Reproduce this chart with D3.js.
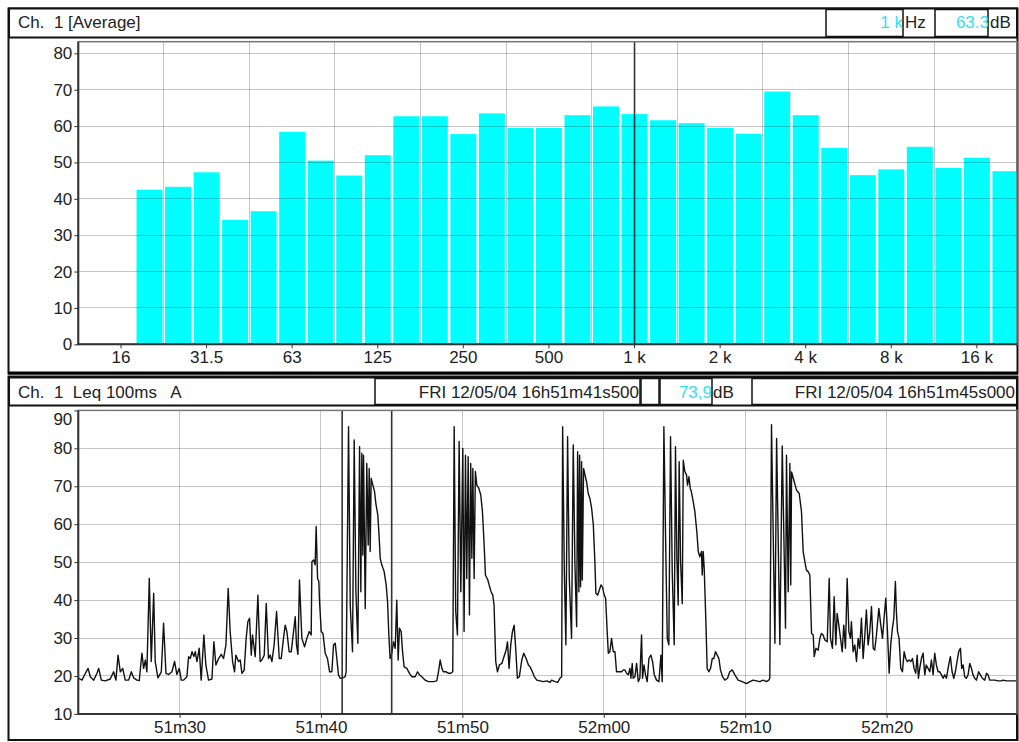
<!DOCTYPE html>
<meta charset="utf-8">
<style>
body { margin: 0; background: #fff; }
text { font-family: "Liberation Sans", Arial, sans-serif; fill: #222; }
.grid line { stroke: #000; stroke-opacity: 0.22; shape-rendering: crispEdges; }
.axis path { display: none; }
.axis line { stroke: #333; }
.axis text { font-size: 17px; fill: #222; font-family: "Liberation Sans", Arial, sans-serif; }
.panel { fill: none; stroke: #111; stroke-width: 2; }
.box { fill: #fff; stroke: #111; stroke-width: 1.5; }
.plotframe { fill: none; stroke: #777; stroke-width: 1.5; }
.cyan { fill: #33dff0; }
.leq { fill: none; stroke: #111; stroke-width: 1.4; stroke-linejoin: round; }
.cursor { stroke: #333; stroke-width: 1.6; }
</style>
<body>
<div id="plotHere"></div>
<script src="https://cdn.jsdelivr.net/npm/d3@7/dist/d3.min.js"></script>
<script>
//------------------------1. DATA------------------------//

// third octave bands, 12.5 Hz .. 20 kHz
var bands = ["12.5","16","20","25","31.5","40","50","63","80","100","125","160","200","250","315",
             "400","500","630","800","1 k","1.25 k","1.6 k","2 k","2.5 k","3.15 k","4 k","5 k","6.3 k",
             "8 k","10 k","12.5 k","16 k","20 k"];
var bandDb = [null,null,42.5,43.3,47.3,34.2,36.6,58.4,50.5,46.4,52.0,62.7,62.7,57.8,63.5,
              59.5,59.5,63.0,65.4,63.3,61.6,60.8,59.5,57.9,69.5,63.0,54.0,46.5,
              48.1,54.3,48.5,51.3,47.6];
var bandLabels = ["16","31.5","63","125","250","500","1 k","2 k","4 k","8 k","16 k"];
var bandGrid = ["25","50","100","200","400","800","1.6 k","3.15 k","6.3 k","12.5 k"];
var dbTicks = [0,10,20,30,40,50,60,70,80];
var cursorBand = "1 k";

// Leq 100ms A, seconds after 16h51m00
var leqT = [22.63,22.87,23.10,23.34,23.53,23.69,23.93,24.16,24.28,24.47,24.75,25.10,25.34,25.50,25.65,25.81,25.98,26.16,26.40,26.59,
  26.75,26.99,27.15,27.34,27.46,27.58,27.69,27.86,28.00,28.17,28.28,28.47,28.71,28.87,29.04,29.23,29.46,29.65,29.81,29.98,
  30.12,30.29,30.52,30.64,30.76,30.88,31.01,31.11,31.23,31.39,31.53,31.72,31.86,32.05,32.29,32.43,32.57,32.76,32.95,33.11,
  33.28,33.44,33.58,33.75,33.89,33.98,34.17,34.29,34.41,34.57,34.71,34.83,34.95,35.07,35.16,35.35,35.54,35.70,35.82,35.99,
  36.13,36.29,36.41,36.53,36.69,36.86,37.05,37.19,37.35,37.47,37.59,37.75,37.90,38.06,38.18,38.27,38.37,38.48,38.65,38.84,
  39.00,39.17,39.31,39.36,39.48,39.59,39.66,39.76,39.85,39.90,40.02,40.14,40.30,40.46,40.61,40.77,40.89,41.01,41.12,41.24,
  41.36,41.52,41.71,41.78,41.95,42.07,42.23,42.35,42.47,42.61,42.73,42.82,42.89,42.96,43.01,43.13,43.24,43.34,43.41,43.48,
  43.55,43.67,43.79,43.88,44.02,44.12,44.19,44.30,44.47,44.61,44.71,44.80,44.89,45.01,45.13,45.25,45.36,45.46,45.55,45.67,
  45.77,45.88,46.07,46.26,46.42,46.66,46.83,46.97,47.13,47.37,47.60,47.96,48.19,48.31,48.43,48.55,48.66,48.85,49.02,49.18,
  49.32,49.42,49.53,49.65,49.77,49.89,50.03,50.12,50.22,50.31,50.41,50.50,50.59,50.67,50.74,50.83,50.92,51.02,51.16,51.30,
  51.42,51.54,51.63,51.80,51.89,52.03,52.15,52.24,52.36,52.48,52.62,52.79,52.90,53.09,53.19,53.30,53.42,53.54,53.66,53.77,
  53.89,54.03,54.20,54.34,54.51,54.67,54.79,54.95,55.09,55.26,55.49,55.73,55.97,56.20,56.31,56.55,56.74,56.90,57.02,57.09,
  57.21,57.32,57.44,57.56,57.72,57.84,57.96,58.08,58.15,58.24,58.29,58.36,58.43,58.48,58.57,58.67,58.78,58.90,59.02,59.14,
  59.26,59.37,59.44,59.56,59.68,59.80,59.92,60.03,60.13,60.24,60.32,60.43,60.55,60.67,60.79,60.90,61.07,61.26,61.38,61.49,
  61.61,61.73,61.85,61.92,62.01,62.08,62.20,62.32,62.44,62.55,62.67,62.74,62.84,62.95,63.07,63.19,63.33,63.45,63.57,63.73,
  63.90,64.04,64.13,64.25,64.37,64.49,64.60,64.72,64.84,64.98,65.07,65.17,65.26,65.33,65.43,65.55,65.62,65.73,65.85,65.92,
  66.02,66.11,66.19,66.32,66.44,66.58,66.68,66.79,66.91,66.96,67.03,67.10,67.22,67.31,67.43,67.55,67.67,67.78,67.90,68.02,
  68.14,68.25,68.40,68.56,68.75,68.91,69.08,69.27,69.50,69.79,70.09,70.33,70.56,70.80,71.03,71.27,71.51,71.67,71.74,71.86,
  72.10,72.22,72.45,72.62,72.85,72.92,73.04,73.16,73.22,73.28,73.44,73.63,73.82,73.98,74.10,74.22,74.33,74.45,74.57,74.69,
  74.81,74.88,75.00,75.16,75.28,75.39,75.51,75.63,75.80,75.94,76.03,76.17,76.29,76.41,76.50,76.62,76.74,76.86,76.97,77.09,
  77.21,77.33,77.44,77.51,77.63,77.75,77.87,77.99,78.10,78.22,78.34,78.46,78.57,78.69,78.81,78.93,79.05,79.16,79.28,79.45,
  79.59,79.71,79.82,79.94,80.06,80.18,80.29,80.41,80.51,80.62,80.69,80.77,80.88,81.00,81.12,81.24,81.35,81.47,81.59,81.71,
  81.83,81.94,82.06,82.16,82.25,82.34,82.46,82.58,82.70,82.80,82.93,83.05,83.17,83.29,83.40,83.52,83.64,83.76,83.88,84.00,
  84.11,84.23,84.39,84.51,84.63,84.75,84.86,84.98,85.10,85.22,85.31,85.41,85.52,85.64,85.76,85.88,86.00,86.11,86.23,86.35,
  86.51,86.63,86.77,86.94,87.06,87.17,87.29,87.41,87.64,87.88,88.12,88.23,88.47,88.70,88.94,89.18];
var leqDb = [18.5,19.4,18.9,20.7,22.0,19.8,18.9,20.7,22.0,18.9,18.7,19.2,21.1,18.9,25.5,21.1,22.0,18.9,18.9,21.1,
  19.5,18.9,18.8,26.0,22.0,24.2,21.1,45.7,23.8,41.8,23.8,19.5,21.1,33.9,20.7,20.4,21.1,23.8,20.4,22.0,
  18.9,18.9,19.8,25.1,24.6,26.4,25.1,26.4,23.8,27.3,18.9,30.8,22.9,18.9,19.2,29.0,22.9,24.6,25.7,24.6,
  28.2,43.1,31.7,23.8,21.1,25.5,23.8,24.2,20.7,21.5,29.9,34.3,35.2,25.5,30.8,25.1,41.3,23.8,24.2,25.5,
  39.1,24.6,25.5,23.8,28.2,37.0,24.6,24.6,29.9,33.4,31.7,26.4,26.4,31.7,35.6,28.2,25.7,45.3,29.9,27.7,
  29.9,31.7,30.8,50.1,50.6,49.3,59.4,45.7,44.9,39.6,31.7,31.2,26.0,24.6,21.1,21.1,28.2,28.6,24.6,20.3,
  19.4,19.4,19.8,21.1,85.7,38.7,26.4,82.2,42.2,28.6,80.4,42.2,78.7,51.9,78.2,37.8,76.0,54.5,74.7,52.8,
  72.1,70.3,68.6,65.5,62.4,56.3,51.0,49.3,47.5,44.0,39.6,30.8,24.6,26.0,29.0,27.3,40.0,24.2,32.6,31.7,
  26.4,22.4,22.0,20.7,19.8,19.8,21.1,20.3,19.8,18.9,18.5,18.5,18.7,21.1,24.2,22.0,21.1,21.1,20.7,20.7,
  21.1,85.7,37.0,30.8,81.8,42.2,80.0,31.7,78.2,45.7,77.8,36.1,76.0,51.0,74.7,45.7,73.9,70.3,69.5,67.7,
  63.3,54.5,46.6,45.3,44.0,42.2,41.3,38.7,23.8,21.1,22.9,23.3,24.6,26.8,29.0,22.0,28.2,31.7,33.4,27.3,
  19.4,19.8,24.2,26.0,24.6,22.9,22.4,21.1,19.8,18.9,18.7,18.5,18.7,18.3,18.9,18.5,18.3,19.4,19.8,85.7,
  47.5,28.2,83.1,45.7,29.9,80.9,49.3,33.0,79.1,42.2,78.2,43.5,76.5,45.3,74.7,73.0,71.2,68.1,66.8,64.2,
  59.8,50.1,41.8,41.3,42.6,44.0,43.3,41.3,40.5,31.7,26.0,26.4,29.9,26.4,26.4,21.1,21.1,21.1,21.6,21.6,
  20.7,20.3,22.0,19.4,23.3,19.4,19.8,23.3,18.5,19.4,30.8,19.4,22.9,20.3,18.5,24.6,25.5,23.8,20.3,18.9,
  18.5,25.5,18.5,85.7,56.3,29.9,28.2,83.1,47.5,28.2,80.4,51.0,38.7,76.5,50.1,39.1,76.9,73.9,73.0,70.3,
  72.5,69.5,68.6,66.0,63.3,58.0,52.8,51.4,52.8,46.6,52.8,48.4,34.3,22.0,21.1,22.0,24.6,24.6,26.4,25.5,
  24.6,21.6,19.8,18.9,19.4,21.1,21.6,20.3,18.9,18.5,18.0,18.5,18.9,18.7,18.5,18.9,18.5,18.9,19.4,86.2,
  28.6,82.6,28.3,80.6,32.6,78.2,42.2,76.0,44.0,73.8,71.6,69.0,68.1,63.3,52.8,50.1,47.9,47.5,46.6,31.2,
  30.8,25.1,27.3,26.8,29.9,31.2,30.8,29.5,29.0,45.7,29.9,27.3,40.9,28.2,36.5,33.4,29.9,26.4,33.4,27.3,
  45.7,31.7,29.9,34.3,26.4,28.2,23.8,29.9,27.3,35.2,24.6,30.8,37.4,28.2,31.7,38.3,27.3,26.8,30.8,37.8,
  33.4,29.9,35.2,40.5,31.7,20.7,28.2,32.6,35.2,44.9,37.0,31.7,29.9,22.0,21.1,26.4,24.6,23.8,24.2,23.8,
  24.6,22.0,20.7,25.5,19.4,22.0,24.6,26.0,20.3,22.9,22.0,21.1,24.2,20.3,26.0,22.9,21.1,21.1,20.3,19.4,
  20.3,19.4,22.9,25.1,21.1,19.4,21.1,23.8,26.4,27.3,22.0,22.9,19.8,19.4,20.3,23.3,22.0,20.3,19.4,18.9,
  21.1,20.3,19.4,18.9,20.7,20.3,18.9,18.9,18.9,18.7,18.7,18.9,18.7,18.7,18.7,18.7];
var timeTicks = [30,40,50,60,70,80];
var timeLabels = ["51m30","51m40","51m50","52m00","52m10","52m20"];
var leqTicks = [10,20,30,40,50,60,70,80,90];
var timeCursors = [41.5, 45.0];

var topTitle = "Ch.  1 [Average]";
var botTitle = "Ch.  1  Leq 100ms   A";
var cursorTime1 = "FRI 12/05/04 16h51m41s500";
var cursorTime2 = "FRI 12/05/04 16h51m45s000";
var cursorLeq = "73,9";

//------------------------2. SVG------------------------//
var W = 1019, H = 742;
var topPlot = {left: 78.3, right: 1017, top: 41.7, bottom: 344.3};
var botPlot = {left: 78.3, right: 1017, top: 410.4, bottom: 713.9};

var svg = d3.select("#plotHere").append("svg")
    .attr("width", W)
    .attr("height", H);

var defs = svg.append("defs");
defs.append("clipPath").attr("id", "clipTop").append("rect")
    .attr("x", topPlot.left).attr("y", topPlot.top)
    .attr("width", topPlot.right - topPlot.left).attr("height", topPlot.bottom - topPlot.top);
defs.append("clipPath").attr("id", "clipBot").append("rect")
    .attr("x", botPlot.left).attr("y", botPlot.top)
    .attr("width", botPlot.right - botPlot.left).attr("height", botPlot.bottom - botPlot.top);

//------------------------3. SPECTRUM (top)------------------------//
var step = 28.53;
var x = d3.scaleBand().domain(bands)
    .range([78.2, 78.2 + bands.length * step])
    .paddingInner(0.09).paddingOuter(0.045);
var y = d3.scaleLinear().domain([0, 83.2]).range([topPlot.bottom, topPlot.top]);

function bandCenter(b) { return x(b) + x.bandwidth() / 2; }
function bandEdge(b) { return bandCenter(b) - x.step() / 2; }

// panel frame + header
svg.append("rect").attr("class", "panel")
    .attr("x", 8.5).attr("y", 8.5).attr("width", 1009).attr("height", 365);
svg.append("rect").attr("class", "box")
    .attr("x", 9).attr("y", 8.5).attr("width", 1008).attr("height", 29).style("stroke-width", 2);
svg.append("text").attr("x", 18).attr("y", 28).style("font-size", "17px")
    .style("white-space", "pre").text(topTitle);

svg.append("rect").attr("class", "box")
    .attr("x", 826).attr("y", 9.5).attr("width", 77).attr("height", 27);
svg.append("text").attr("class", "cyan").attr("x", 903).attr("y", 28)
    .attr("text-anchor", "end").style("font-size", "17px").text(cursorBand);
svg.append("text").attr("x", 905).attr("y", 28).style("font-size", "17px").text("Hz");
svg.append("rect").attr("class", "box")
    .attr("x", 935).attr("y", 9.5).attr("width", 53).attr("height", 27);
svg.append("text").attr("class", "cyan").attr("x", 989).attr("y", 28)
    .attr("text-anchor", "end").style("font-size", "17px")
    .text(d3.format(".1f")(bandDb[bands.indexOf(cursorBand)]));
svg.append("text").attr("x", 990).attr("y", 28).style("font-size", "17px").text("dB");

var gTop = svg.append("g").attr("clip-path", "url(#clipTop)");

var barData = bands.map(function(b, i) { return {band: b, db: bandDb[i]}; })
    .filter(function(d) { return d.db != null; });

gTop.selectAll(".bar").data(barData).enter().append("rect")
    .attr("class", "bar")
    .attr("x", function(d) { return x(d.band); })
    .attr("width", x.bandwidth())
    .attr("y", function(d) { return y(d.db); })
    .attr("height", function(d) { return y(0) - y(d.db); })
    .style("fill", "#00ffff");

// grid over the bars
var gridTop = gTop.append("g").attr("class", "grid");
gridTop.selectAll(".h").data(dbTicks.slice(1)).enter().append("line")
    .attr("x1", topPlot.left).attr("x2", topPlot.right)
    .attr("y1", function(d) { return y(d); }).attr("y2", function(d) { return y(d); });
gridTop.selectAll(".v").data(bandGrid).enter().append("line")
    .attr("x1", bandEdge).attr("x2", bandEdge)
    .attr("y1", topPlot.top).attr("y2", topPlot.bottom);

gTop.append("line").attr("class", "cursor")
    .attr("x1", bandCenter(cursorBand)).attr("x2", bandCenter(cursorBand))
    .attr("y1", topPlot.top).attr("y2", topPlot.bottom);

svg.append("rect").attr("class", "plotframe")
    .attr("x", topPlot.left).attr("y", topPlot.top)
    .attr("width", topPlot.right - topPlot.left).attr("height", topPlot.bottom - topPlot.top);

// axes
svg.append("g").attr("class", "axis")
    .attr("transform", "translate(" + topPlot.left + ",0)")
    .call(d3.axisLeft(y).tickValues(dbTicks).tickSize(4).tickPadding(2));
svg.append("g").attr("class", "axis")
    .attr("transform", "translate(0," + topPlot.bottom + ")")
    .call(d3.axisBottom(x).tickValues(bandLabels).tickSize(4).tickPadding(3));
svg.append("line").attr("x1", topPlot.left).attr("x2", topPlot.left)
    .attr("y1", topPlot.top).attr("y2", topPlot.bottom + 1)
    .style("stroke", "#333").style("stroke-width", 2);
svg.append("line").attr("x1", topPlot.left).attr("x2", topPlot.right)
    .attr("y1", topPlot.bottom).attr("y2", topPlot.bottom)
    .style("stroke", "#333").style("stroke-width", 2);

svg.append("line").attr("x1", 8).attr("x2", 1018).attr("y1", 373).attr("y2", 373)
    .style("stroke", "#000").style("stroke-width", 3);

//------------------------4. LEQ TIME HISTORY (bottom)------------------------//
var t = d3.scaleLinear().domain([22.84, 89.22]).range([botPlot.left, botPlot.right]);
var v = d3.scaleLinear().domain([10, 90]).range([botPlot.bottom, botPlot.top]);

svg.append("rect").attr("class", "panel")
    .attr("x", 8.5).attr("y", 376.5).attr("width", 1009).attr("height", 363.5);
svg.append("rect").attr("class", "box")
    .attr("x", 9).attr("y", 377.5).attr("width", 1008).attr("height", 28).style("stroke-width", 2);
svg.append("text").attr("x", 18).attr("y", 398).style("font-size", "17px")
    .style("white-space", "pre").text(botTitle);

svg.append("rect").attr("class", "box")
    .attr("x", 375).attr("y", 378.5).attr("width", 265).attr("height", 26);
svg.append("text").attr("x", 639).attr("y", 398).attr("text-anchor", "end")
    .style("font-size", "17px").text(cursorTime1);
svg.append("rect").attr("class", "box")
    .attr("x", 641).attr("y", 378.5).attr("width", 18).attr("height", 26);
svg.append("rect").attr("class", "box")
    .attr("x", 660).attr("y", 378.5).attr("width", 52).attr("height", 26);
svg.append("text").attr("class", "cyan").attr("x", 712).attr("y", 398).attr("text-anchor", "end")
    .style("font-size", "17px").text(cursorLeq);
svg.append("text").attr("x", 713).attr("y", 398).style("font-size", "17px").text("dB");
svg.append("rect").attr("class", "box")
    .attr("x", 752).attr("y", 378.5).attr("width", 265).attr("height", 26);
svg.append("text").attr("x", 1015).attr("y", 398).attr("text-anchor", "end")
    .style("font-size", "17px").text(cursorTime2);
svg.append("line").attr("x1", 1017).attr("x2", 1017).attr("y1", 377).attr("y2", 740)
    .style("stroke", "#111").style("stroke-width", 2);

var gBot = svg.append("g").attr("clip-path", "url(#clipBot)");
var gridBot = gBot.append("g").attr("class", "grid");
gridBot.selectAll(".h").data(leqTicks.slice(1)).enter().append("line")
    .attr("x1", botPlot.left).attr("x2", botPlot.right)
    .attr("y1", function(d) { return v(d); }).attr("y2", function(d) { return v(d); });
gridBot.selectAll(".v").data(timeTicks).enter().append("line")
    .attr("x1", function(d) { return t(d); }).attr("x2", function(d) { return t(d); })
    .attr("y1", botPlot.top).attr("y2", botPlot.bottom);

var leqLine = d3.line()
    .x(function(d, i) { return t(leqT[i]); })
    .y(function(d) { return v(d); });

gBot.append("path").datum(leqDb)
    .attr("class", "leq")
    .attr("d", leqLine);

gBot.selectAll(".tcur").data(timeCursors).enter().append("line")
    .attr("class", "cursor")
    .attr("x1", function(d) { return t(d); }).attr("x2", function(d) { return t(d); })
    .attr("y1", botPlot.top).attr("y2", botPlot.bottom);

svg.append("rect").attr("class", "plotframe")
    .attr("x", botPlot.left).attr("y", botPlot.top)
    .attr("width", botPlot.right - botPlot.left).attr("height", botPlot.bottom - botPlot.top);

var yAxisBot = svg.append("g").attr("class", "axis")
    .attr("transform", "translate(" + botPlot.left + ",0)")
    .call(d3.axisLeft(v).tickValues(leqTicks).tickSize(4).tickPadding(2));
// top label sits just under the frame
yAxisBot.selectAll(".tick text")
    .filter(function(d) { return d === 90; })
    .attr("y", 9);
svg.append("g").attr("class", "axis")
    .attr("transform", "translate(0," + botPlot.bottom + ")")
    .call(d3.axisBottom(t).tickValues(timeTicks)
        .tickFormat(function(d, i) { return timeLabels[i]; })
        .tickSize(4).tickPadding(3));
svg.append("line").attr("x1", botPlot.left).attr("x2", botPlot.left)
    .attr("y1", botPlot.top).attr("y2", botPlot.bottom + 1)
    .style("stroke", "#333").style("stroke-width", 2);
svg.append("line").attr("x1", botPlot.left).attr("x2", botPlot.right)
    .attr("y1", botPlot.bottom).attr("y2", botPlot.bottom)
    .style("stroke", "#333").style("stroke-width", 2);

</script>
</body>
